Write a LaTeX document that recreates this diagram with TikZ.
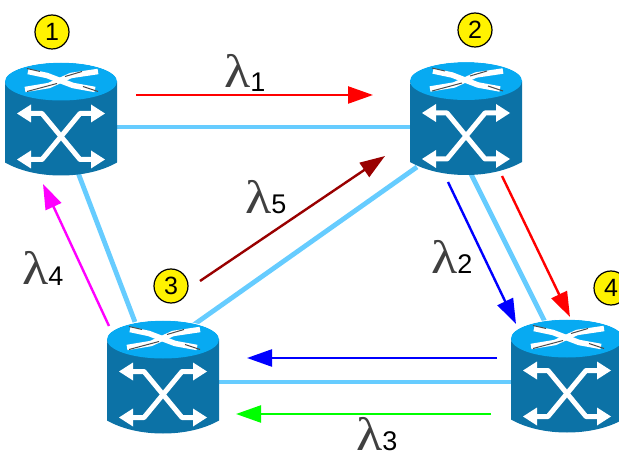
\documentclass[tikz,border=0pt]{standalone}
\usepackage{fontspec}
\setmainfont{Liberation Sans}
\newfontfamily\lamfont{Liberation Serif}
\usetikzlibrary{arrows.meta}
\definecolor{rside}{HTML}{0C72A6}
\definecolor{rtop}{HTML}{07AAF2}
\definecolor{linkblue}{HTML}{66CCFF}
\definecolor{darkr}{HTML}{990000}
\definecolor{puremag}{RGB}{255,0,255}
\definecolor{purered}{RGB}{255,0,0}
\definecolor{pureblue}{RGB}{0,0,255}
\definecolor{puregreen}{RGB}{0,255,0}
\newcommand{\lamlabel}[2]{{\lamfont\fontsize{47}{47}\selectfont\textcolor{black!75}{\scalebox{1.15}[1]{λ}}}\raisebox{#2}{\fontsize{27}{27}\selectfont #1}}
\tikzset{
  x=1pt,y=-1pt,
  routerbox/.style={minimum width=112pt,minimum height=113pt,inner sep=0pt,outer sep=0pt},
  linkline/.style={draw=linkblue,line width=4.8pt},
  wave/.style={line width=2.4pt,-{Triangle[length=25pt,width=17pt]}},
  badge/.style={circle,draw=black,fill=yellow,line width=1.2pt,minimum size=34pt,inner sep=0pt,font=\fontsize{25}{25}\selectfont},
  lam/.style={inner sep=0pt,anchor=base west},
  pics/router/.style={code={
    \fill[rside] (-56,-37) -- (-56,44) .. controls (-40,53) and (-20,57) .. (0,57) .. controls (20,57) and (40,53) .. (56,44) -- (56,-37) -- cycle;
    \fill[rtop] (0,-37) ellipse [x radius=56,y radius=19];
    \draw[white,line width=.7pt] (-56,-34) arc [start angle=170,end angle=350,x radius=56.8,y radius=19];
    % X on the lid
    \draw[white,line width=5.5pt] (-33,-47) -- (-14,-43) -- (12,-33) -- (34,-29);
    \draw[white,line width=5.5pt] (37,-47) -- (10,-43) -- (-12,-33) -- (-36,-29);
    \draw[black!70,line width=1pt] (-34,-50) -- (-21,-47) (4,-42) -- (21,-47) (-34,-27) -- (-4,-35) (22,-32) -- (37,-27);
    % X on the body
    \draw[white,line width=5pt,line join=round] (-34,-5) -- (-19,-5) -- (19,41) -- (34,41);
    \draw[white,line width=5pt,line join=round] (34,-5) -- (19,-5) -- (-19,41) -- (-34,41);
    \fill[white] (-44,-5) -- (-30,-14) -- (-30,4) -- cycle;
    \fill[white] (44,-5) -- (30,-14) -- (30,4) -- cycle;
    \fill[white] (-44,41) -- (-30,32) -- (-30,50) -- cycle;
    \fill[white] (44,41) -- (30,32) -- (30,50) -- cycle;
  }}
}
\begin{document}
\begin{tikzpicture}
\useasboundingbox (0,0) rectangle (619,457);
\clip (0,0) rectangle (619,457);
% routers
\node[routerbox] (r1) at (61,118.5) {};
\node[routerbox] (r2) at (466,118) {};
\node[routerbox] (r3) at (163,376.5) {};
\node[routerbox] (r4) at (567,375.5) {};
% free ends of the wavelength arrows
\coordinate (a1) at (136,95);  \coordinate (b1) at (373,95);
\coordinate (a2) at (448,182); \coordinate (b2) at (516,324);
\coordinate (a3) at (502,176); \coordinate (b3) at (570,317);
\coordinate (a4) at (497,358); \coordinate (b4) at (247,358);
\coordinate (a5) at (491,414); \coordinate (b5) at (236,414);
\coordinate (a6) at (109,326); \coordinate (b6) at (43,184);
\coordinate (a7) at (200,281); \coordinate (b7) at (385,156);
% links
\path[linkline] (r1.east |- 0,127) -- (r2.west |- 0,127);
\path[linkline] (77,170) -- (135,322);
\path[linkline] (417,167) -- (192,326);
\path[linkline] (470,172) -- (545,322);
\path[linkline] (r3.east |- 0,382) -- (r4.west |- 0,382);
\pic at (r1) {router};
\pic at (r2) {router};
\pic at (r3) {router};
\pic at (r4) {router};
% wavelengths
\draw[wave,purered] (a1) -- (b1);
\draw[wave,pureblue] (a2) -- (b2);
\draw[wave,purered] (a3) -- (b3);
\draw[wave,pureblue] (a4) -- (b4);
\draw[wave,puregreen] (a5) -- (b5);
\draw[wave,puremag] (a6) -- (b6);
\draw[wave,darkr] (a7) -- (b7);
% badges
\node[badge] (n1) at (52,32) {1};
\node[badge] (n2) at (475,30) {2};
\node[badge] (n3) at (171,286) {3};
\node[badge] (n4) at (611,288) {4};
% labels
\node[lam] (l1) at (224,88) {\lamlabel{1}{-4pt}};
\node[lam] (l2) at (431,274) {\lamlabel{2}{0pt}};
\node[lam] (l3) at (356,450) {\lamlabel{3}{0pt}};
\node[lam] (l4) at (22,285) {\lamlabel{4}{-1pt}};
\node[lam] (l5) at (245,214) {\lamlabel{5}{0pt}};
\end{tikzpicture}
\end{document}
